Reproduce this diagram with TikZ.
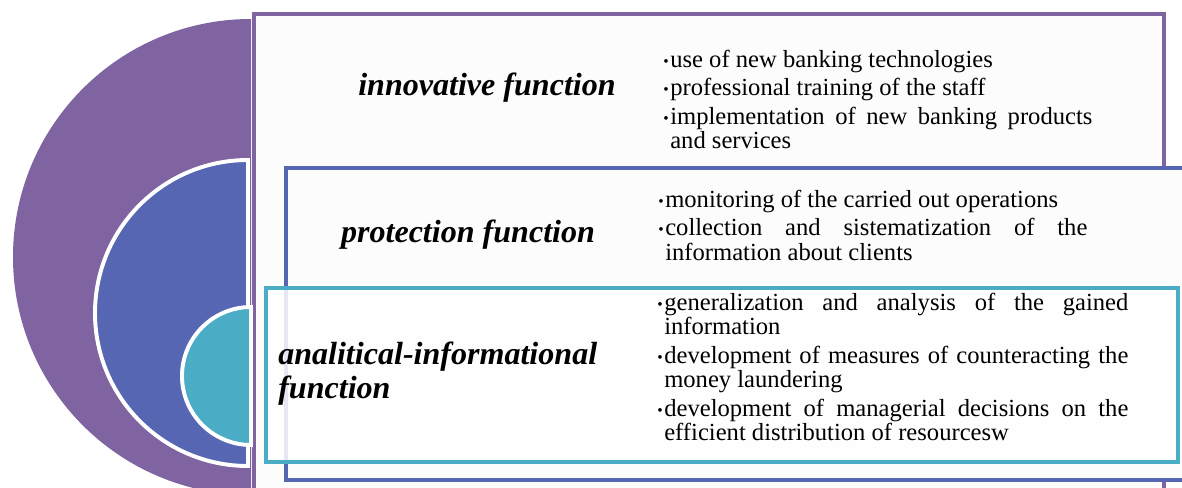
\documentclass[tikz,border=0pt]{standalone}
\usepackage{fontspec}
\setmainfont{Liberation Serif}
\definecolor{funcpurple}{HTML}{8064A2}
\definecolor{funcblue}{HTML}{5766B2}
\definecolor{functeal}{HTML}{4BACC6}
\definecolor{boxfill}{HTML}{FCFCFC}
% bullet with hanging indent, and the next bullet point
\newcommand{\bmark}{\hangindent=0.175cm\hangafter=1%
  \makebox[0.175cm][l]{\raisebox{0.6pt}{\fontsize{11pt}{11pt}\selectfont\textbullet}}}
\newcommand{\bitem}{\par\noindent\bmark}
\newcommand{\listsetup}{\setlength{\parskip}{3pt}\parindent=0pt\hyphenpenalty=10000\exhyphenpenalty=10000\relax}
\begin{document}
\begin{tikzpicture}[x=0.025cm, y=-0.025cm,
    title/.style={font=\fontsize{22.8pt}{23.5pt}\selectfont\bfseries\itshape, inner sep=0pt},
    list/.style={font=\fontsize{17.5pt}{17.4pt}\selectfont, execute at begin node=\listsetup,
      inner sep=0pt, align=justify, anchor=base west},
    frame/.style={line width=2.8pt},
    halfdisk/.style={draw=white, line width=2.8pt}]
    \clip (0,0) rectangle (1182,487);
    \fill[white] (0,0) rectangle (1182,487);

    % innovative
    \fill[funcpurple] (251,19) arc[start angle=270, end angle=90, radius=238] -- cycle;
    \draw[frame, draw=funcpurple, fill=boxfill] (254,14) rectangle (1164,520);

    % protection
    \filldraw[halfdisk, fill=funcblue] (248,160) arc[start angle=270, end angle=90, radius=153] -- cycle;
    \draw[frame, draw=funcblue, fill=boxfill] (286,168) rectangle (1220,480);

    % analitical-informational
    \filldraw[halfdisk, fill=functeal] (251,307) arc[start angle=270, end angle=90, radius=69] -- cycle;
    \draw[frame, draw=functeal, fill=white, fill opacity=0.85] (266,288) rectangle (1178,462);

    \node[title, anchor=base] (innov) at (487,95) {innovative function};
    \node[title, anchor=base] (protect) at (468,242) {protection function};
    \node[title, anchor=base west, align=left] (analit) at (278,398) {analitical-informational\\function};

    \node[list, text width=10.725cm] (innovlist) at (663,67)
        {\bmark use of new banking technologies
         \bitem professional training of the staff
         \bitem implementation of new banking products and services\par};
    \node[list, text width=10.725cm] (protectlist) at (658,207)
        {\bmark monitoring of the carried out operations
         \bitem collection and sistematization of the information about clients\par};
    \node[list, text width=11.775cm] (analitlist) at (657,310)
        {\bmark generalization and analysis of the gained information
         \bitem development of measures of counteracting the money laundering
         \bitem development of managerial decisions on the efficient distribution of resourcesw\par};
\end{tikzpicture}
\end{document}
